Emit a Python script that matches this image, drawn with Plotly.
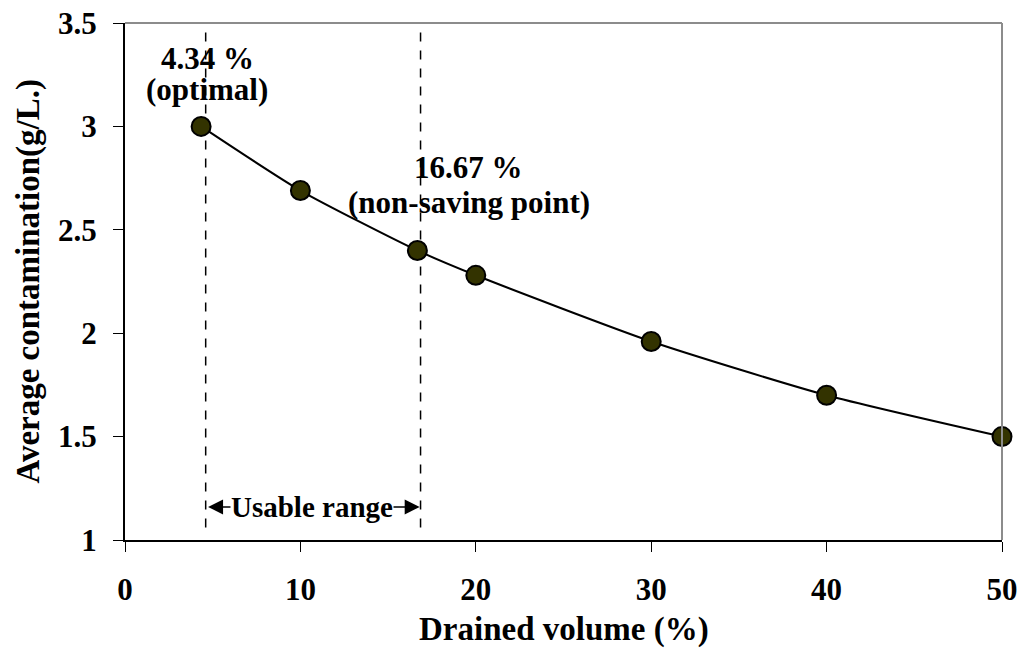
import plotly.graph_objects as go

# drained volume (%) vs average contamination (g/L)
drained_volume = [4.34, 10, 16.67, 20, 30, 40, 50]
avg_contamination = [3.0, 2.69, 2.40, 2.28, 1.96, 1.70, 1.50]

x_ticks = [0, 10, 20, 30, 40, 50]
y_ticks = [1, 1.5, 2, 2.5, 3, 3.5]
y_tick_text = ["1", "1.5", "2", "2.5", "3", "3.5"]

optimal_x = 4.6
nonsaving_x = 16.85

FONT = "Liberation Serif"

fig = go.Figure()

fig.add_trace(go.Scatter(
    x=drained_volume, y=avg_contamination,
    mode="lines+markers",
    line=dict(color="black", width=2, shape="spline", smoothing=0.6),
    marker=dict(color="#333300", size=19, line=dict(color="black", width=2)),
    showlegend=False, hoverinfo="x+y", cliponaxis=False,
))

# dashed markers for the usable range
for xv in [optimal_x, nonsaving_x]:
    fig.add_shape(type="line", xref="x", yref="y", x0=xv, x1=xv, y0=1.06, y1=3.48,
                  line=dict(color="black", width=1.5, dash="dash"), layer="below")

# grey top / right frame
fig.add_shape(type="line", xref="paper", yref="paper", x0=0, x1=1, y0=1, y1=1,
              line=dict(color="#8c8c8c", width=2))
fig.add_shape(type="line", xref="paper", yref="paper", x0=1, x1=1, y0=0, y1=1,
              line=dict(color="#8c8c8c", width=2))

bold = dict(family=FONT, size=31, color="black")

# labels, one line each to keep the tight line spacing
labels = [("4.34 %", 4.7, 3.33), ("(optimal)", 4.7, 3.18),
          ("16.67 %", 19.6, 2.80), ("(non-saving point)", 19.6, 2.63)]
for txt, lx, ly in labels:
    fig.add_annotation(x=lx, y=ly, text="<b>%s</b>" % txt, showarrow=False,
                       font=bold, xref="x", yref="y")

# double headed arrow + label
fig.add_annotation(x=nonsaving_x - 0.05, y=1.16, ax=optimal_x + 0.05, ay=1.16,
                   xref="x", yref="y", axref="x", ayref="y", text="",
                   showarrow=True, arrowhead=2, arrowside="end+start",
                   arrowsize=2, arrowwidth=1.5, arrowcolor="black")
fig.add_annotation(x=10.67, y=1.16, text="<b>Usable range</b>",
                   showarrow=False, font=dict(family=FONT, size=29, color="black"),
                   bgcolor="white", borderpad=0, xref="x", yref="y")

# axis titles as annotations for exact placement
fig.add_annotation(x=0.5, y=0, xref="paper", yref="paper", yshift=-89,
                   xanchor="center", yanchor="middle",
                   text="<b>Drained volume (%)</b>", showarrow=False,
                   font=dict(family=FONT, size=33, color="black"))
fig.add_annotation(x=0, y=0.5, xref="paper", yref="paper", xshift=-97,
                   xanchor="center", yanchor="middle",
                   textangle=-90, text="<b>Average contamination(g/L.)</b>",
                   showarrow=False, font=dict(family=FONT, size=33, color="black"))

fig.update_xaxes(
    range=[0, 50], tickvals=x_ticks, ticktext=["<b>%d</b>" % t for t in x_ticks],
    showgrid=False, zeroline=False, automargin=False,
    showline=True, linecolor="black", linewidth=2,
    ticks="outside", ticklen=10, tickcolor="black", tickwidth=1,
    tickfont=dict(family=FONT, size=31, color="black"),
    ticklabelstandoff=11, ticklabeloverflow="allow",
)
fig.update_yaxes(
    range=[1, 3.5], tickvals=y_ticks, ticktext=["<b>%s</b>" % t for t in y_tick_text],
    showgrid=False, zeroline=False, automargin=False,
    showline=True, linecolor="black", linewidth=2,
    ticks="outside", ticklen=10, tickcolor="black", tickwidth=1,
    tickfont=dict(family=FONT, size=31, color="black"),
    ticklabelstandoff=10, ticklabeloverflow="allow",
)

# page body has an 8px margin, so the figure is sized and offset for it
fig.update_layout(
    width=1010, height=640,
    margin=dict(l=117, r=16, t=15, b=108),
    plot_bgcolor="white", paper_bgcolor="white",
)

fig.write_html("out.html")
